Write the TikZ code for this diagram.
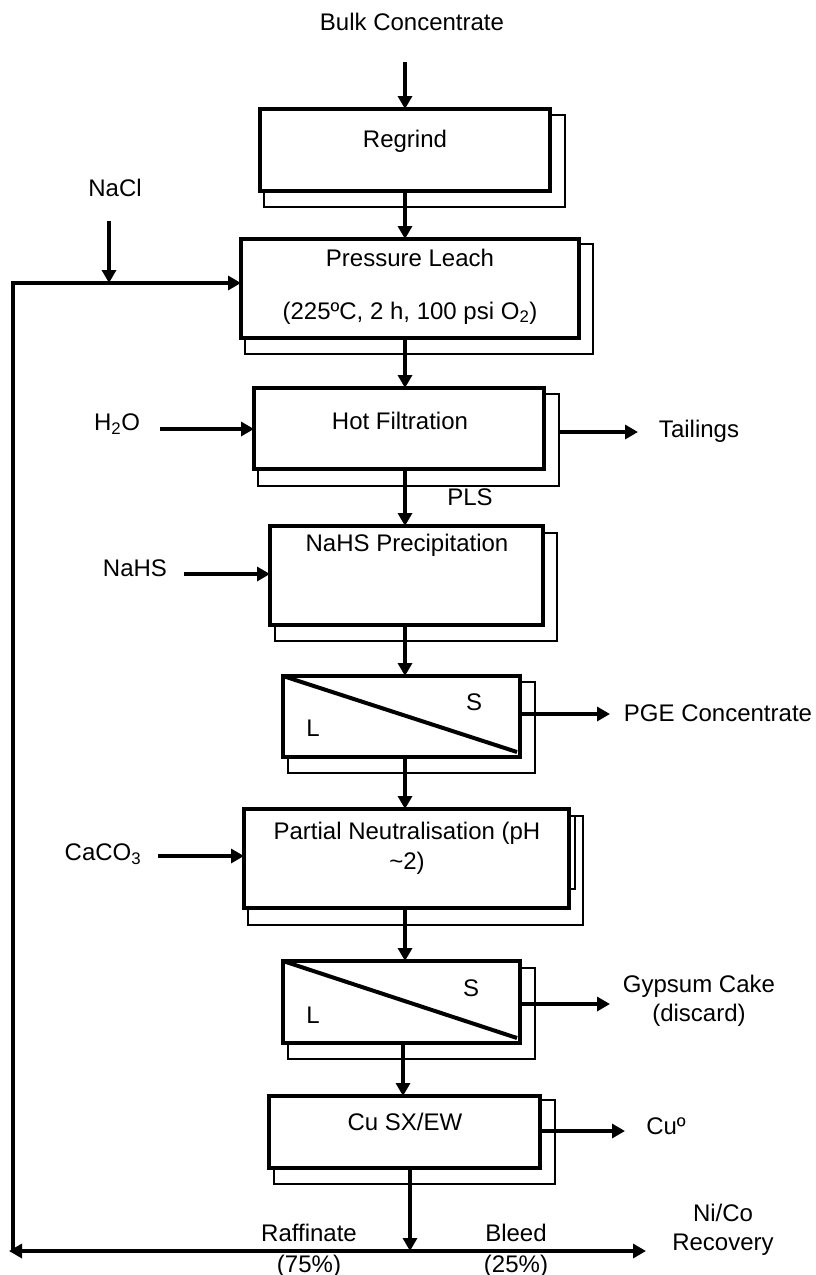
\documentclass[tikz,border=0pt]{standalone}
\usepackage{fontspec}
\setmainfont{Liberation Sans}
\usetikzlibrary{arrows.meta,positioning,calc}

\tikzset{
  unit/.style={draw,fill=white,line width=4.5pt,inner sep=0pt,outer sep=0pt},
  shadowbox/.style={draw,line width=1.5pt},
  flow/.style={line width=4pt,-{Triangle[length=13pt,width=14pt]}},
  lbl/.style={inner sep=0pt,align=center}
}

\begin{document}
\begin{tikzpicture}[x=1pt,y=-1pt,font=\fontsize{24}{29}\selectfont]
  \useasboundingbox (0,0) rectangle (816,1275);
  % shadows behind the units
  \draw[shadowbox] (264,115) rectangle (565,207);
  \draw[shadowbox] (245,244) rectangle (593,354);
  \draw[shadowbox] (258,394) rectangle (559,486);
  \draw[shadowbox] (275,533) rectangle (557,641);
  \draw[shadowbox] (288,682) rectangle (535,773);
  \draw[shadowbox] (248,816) rectangle (583,925);
  \draw[shadowbox] (575,816) -- (575,889) -- (569,889);
  \draw[shadowbox] (288,968) rectangle (535,1059);
  \draw[shadowbox] (274,1100) rectangle (555,1184);
  % units
  \node[unit,minimum width=290pt,minimum height=82pt] (regrind) at (405,150) {};
  \node[unit,minimum width=338pt,minimum height=99pt] (leach) at (410,288.5) {};
  \node[unit,minimum width=290pt,minimum height=81pt] (filt) at (399,428.5) {};
  \node[unit,minimum width=273pt,minimum height=99pt] (nahs) at (406.5,575.5) {};
  \node[unit,minimum width=237pt,minimum height=81pt] (sepa) at (401.5,716.5) {};
  \node[unit,minimum width=325pt,minimum height=99pt] (neut) at (406.5,858.5) {};
  \node[unit,minimum width=237pt,minimum height=82pt] (sepb) at (401.5,1002) {};
  \node[unit,minimum width=271pt,minimum height=72pt] (cusx) at (404.5,1132) {};
  \draw[line width=4pt] (sepa.north west) -- ($(sepa.south east)+(-3,-5)$);
  \draw[line width=4pt] (sepb.north west) -- ($(sepb.south east)+(-3,-5)$);
  % texts in the units
  \node[lbl] (regrindtxt) at (405,141) {Regrind};
  \node[lbl] (leachtxt) at (410,258) {Pressure Leach};
  \node[lbl] (leachcond) at (410,313) {(225ºC, 2 h, 100 psi O\textsubscript{2})};
  \node[lbl] (filttxt) at (400,421) {Hot Filtration};
  \node[lbl] (nahstxt) at (407,545) {NaHS Precipitation};
  \node[lbl] (sepas) at (474,702) {S};
  \node[lbl] (sepal) at (313,728) {L};
  \node[lbl] (neuttxt) at (407,848) {Partial Neutralisation (pH\\[1pt]\textasciitilde2)};
  \node[lbl] (sepbs) at (471,988) {S};
  \node[lbl] (sepbl) at (313,1015) {L};
  \node[lbl] (cusxtxt) at (405,1122) {Cu SX/EW};
  % streams in and out
  \node[lbl] (bulk) at (412,22) {Bulk Concentrate};
  \node[lbl] (nacl) at (115,188) {NaCl};
  \node[lbl] (water) at (117,424) {H\textsubscript{2}O};
  \node[lbl] (tail) at (699,431) {Tailings};
  \node[lbl] (pls) at (470,497) {PLS};
  \node[lbl] (nahsin) at (135,568) {NaHS};
  \node[lbl] (pge) at (718,713) {PGE Concentrate};
  \node[lbl] (caco) at (103,854) {CaCO\textsubscript{3}};
  \node[lbl] (gyps) at (699,1001) {Gypsum Cake\\(discard)};
  \node[lbl] (cu) at (666,1126) {Cuº};
  \node[lbl] (nico) at (723,1230) {Ni/Co\\Recovery};
  \node[lbl,text depth=0pt] (raff) at (309,1248) {Raffinate\\[2pt](75\%)};
  \node[lbl,text depth=0pt] (bleed) at (516,1248) {Bleed\\[2pt](25\%)};
  % free ends
  \coordinate (spine) at (405,0);
  \coordinate (feed) at (405,62);
  \coordinate (naclin) at (109,221);
  \coordinate (leachfeed) at ($(leach.west)+(0,-5.5)$);
  \coordinate (recyc) at (13,1251);
  \coordinate (waterin) at (160,429);
  \coordinate (nahsfeed) at (184,574);
  \coordinate (cacoin) at (158,856);
  \coordinate (drain) at (410,1251);
  \coordinate (leftend) at (9,1251);
  \coordinate (rightend) at (646,1251);
  % main line
  \draw[flow] (feed) -- (feed |- regrind.north);
  \draw[flow] (regrind.south -| spine) -- (leach.north -| spine);
  \draw[flow] (leach.south -| spine) -- (filt.north -| spine);
  \draw[flow] (filt.south -| spine) -- (nahs.north -| spine);
  \draw[flow] (nahs.south -| spine) -- (sepa.north -| spine);
  \draw[flow] (sepa.south -| spine) -- (neut.north -| spine);
  \draw[flow] (neut.south -| spine) -- (sepb.north -| spine);
  \draw[flow] ($(sepb.south -| spine)+(-2,0)$) -- ($(cusx.north -| spine)+(-2,0)$);
  \draw[flow] (cusx.south -| drain) -- (drain);
  % reagents
  \draw[flow] (naclin) -- (naclin |- leachfeed);
  \draw[flow] (waterin) -- (waterin -| filt.west);
  \draw[flow] (nahsfeed) -- (nahsfeed -| nahs.west);
  \draw[flow] (cacoin) -- (cacoin -| neut.west);
  % products
  \draw[flow] ($(filt.east)+(16,3.5)$) -- ++(78,0);
  \draw[flow] ($(sepa.east)+(0,-2.5)$) -- ++(90,0);
  \draw[flow] ($(sepb.east)+(0,2)$) -- ++(90,0);
  \draw[flow] ($(cusx.east)+(-2,-1)$) -- ++(87,0);
  % raffinate split and recycle
  \draw[line width=4pt,{Triangle[length=13pt,width=14pt]}-{Triangle[length=13pt,width=14pt]}] (leftend) -- (rightend);
  \draw[flow] (recyc) |- (leachfeed);
\end{tikzpicture}
\end{document}
